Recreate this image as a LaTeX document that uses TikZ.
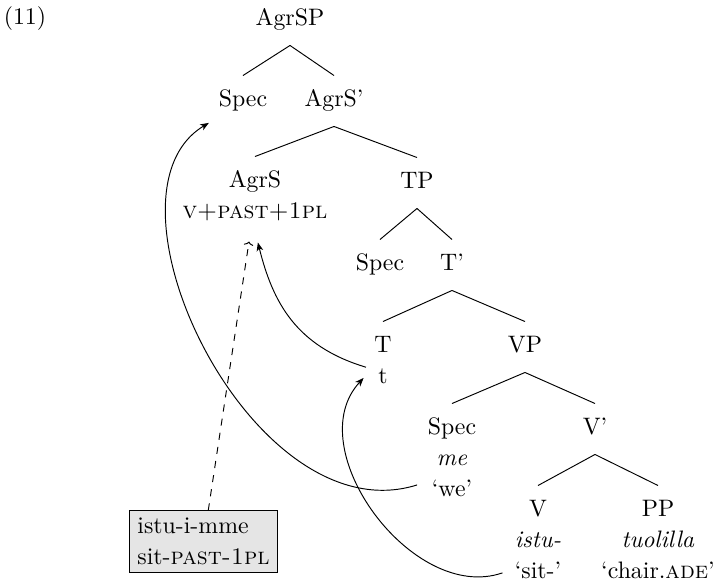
\documentclass[tikz,border=0pt]{standalone}
\usetikzlibrary{arrows.meta}

\tikzset{
  cat/.style={font=\fontsize{10}{13}\selectfont, text height=7pt, text depth=2pt,
              inner xsep=2pt, inner ysep=6pt},
  gloss/.style={draw, fill=gray!20, align=left, font=\fontsize{10}{13}\selectfont,
                inner xsep=3.4pt, inner ysep=3pt},
  move/.style={-{Stealth[length=3.6pt,width=2.8pt,inset=1pt]}},
}

\begin{document}
\begin{tikzpicture}[x=0.42pt,y=-0.42pt,node distance=13pt]
\useasboundingbox (0,0) rectangle (714,583);

        \node[cat] (ex)      at (25,19)   {(11)};
        \node[cat] (agrsp)   at (290,20)  {AgrSP};
        \node[cat] (spec1)   at (243,101) {Spec};
        \node[cat] (agrsbar) at (334,101) {AgrS'};
        \node[cat] (agrs)    at (255,182) {AgrS};
        \node[cat] (feat)    [below of=agrs]   {\textsc{v+past+1pl}};
        \node[cat] (tp)      at (417,183) {TP};
        \node[cat] (spec2)   at (380,265) {Spec};
        \node[cat] (tbar)    at (452,265) {T'};
        \node[cat] (T)       at (383,347) {T};
        \node[cat] (t)       [below of=T]      {t};
        \node[cat] (vp)      at (525,347) {VP};
        \node[cat] (spec3)   at (452,429) {Spec};
        \node[cat] (me)      [below of=spec3]  {\textit{me}};
        \node[cat] (we)      [below of=me]     {`we'};
        \node[cat] (vbar)    at (595,429) {V'};
        \node[cat] (v)       at (538,511) {V};
        \node[cat] (istu)    [below of=v]      {\textit{istu-}};
        \node[cat] (sit)     [below of=istu]   {`sit-'};
        \node[cat] (pp)      at (658,511) {PP};
        \node[cat] (tuol)    [below of=pp]     {\textit{tuolilla}};
        \node[cat] (chair)   [below of=tuol]   {`chair.\textsc{ade}'};

        \node[gloss] (verb) at (203.5,541.5) {istu-i-mme\\sit-\textsc{past-1pl}};

        % tree
        \path
                  (agrsp.south)   edge (spec1.north)
                                  edge (agrsbar.north)
                  (agrsbar.south) edge (agrs.north)
                                  edge (tp.north)
                  (tp.south)      edge (spec2.north)
                                  edge (tbar.north)
                  (tbar.south)    edge (T.north)
                                  edge (vp.north)
                  (vp.south)      edge (spec3.north)
                                  edge (vbar.north)
                  (vbar.south)    edge (v.north)
                                  edge (pp.north);

        % movement
        \draw[move] ([shift={(-4pt,2.5pt)}]we.west)
              .. controls +(-165,52) and +(-120,72) .. ([shift={(-2pt,1.5pt)}]spec1.south west);
        \draw[move] ([xshift=-3pt]sit.west)
              .. controls +(-90,31) and +(-65,70) .. ([xshift=-4pt]t.west);
        \draw[move] ([shift={(-3pt,4.5pt)}]t.west)
              .. controls +(-70,-21) and +(15,60) .. ([shift={(1.2pt,-1.7pt)}]feat.south);
        \draw[-{To[length=1.6pt,width=4pt]},dashed] ([xshift=2pt]verb.north) -- ([shift={(-2.5pt,-1.3pt)}]feat.south);
      \end{tikzpicture}
\end{document}
